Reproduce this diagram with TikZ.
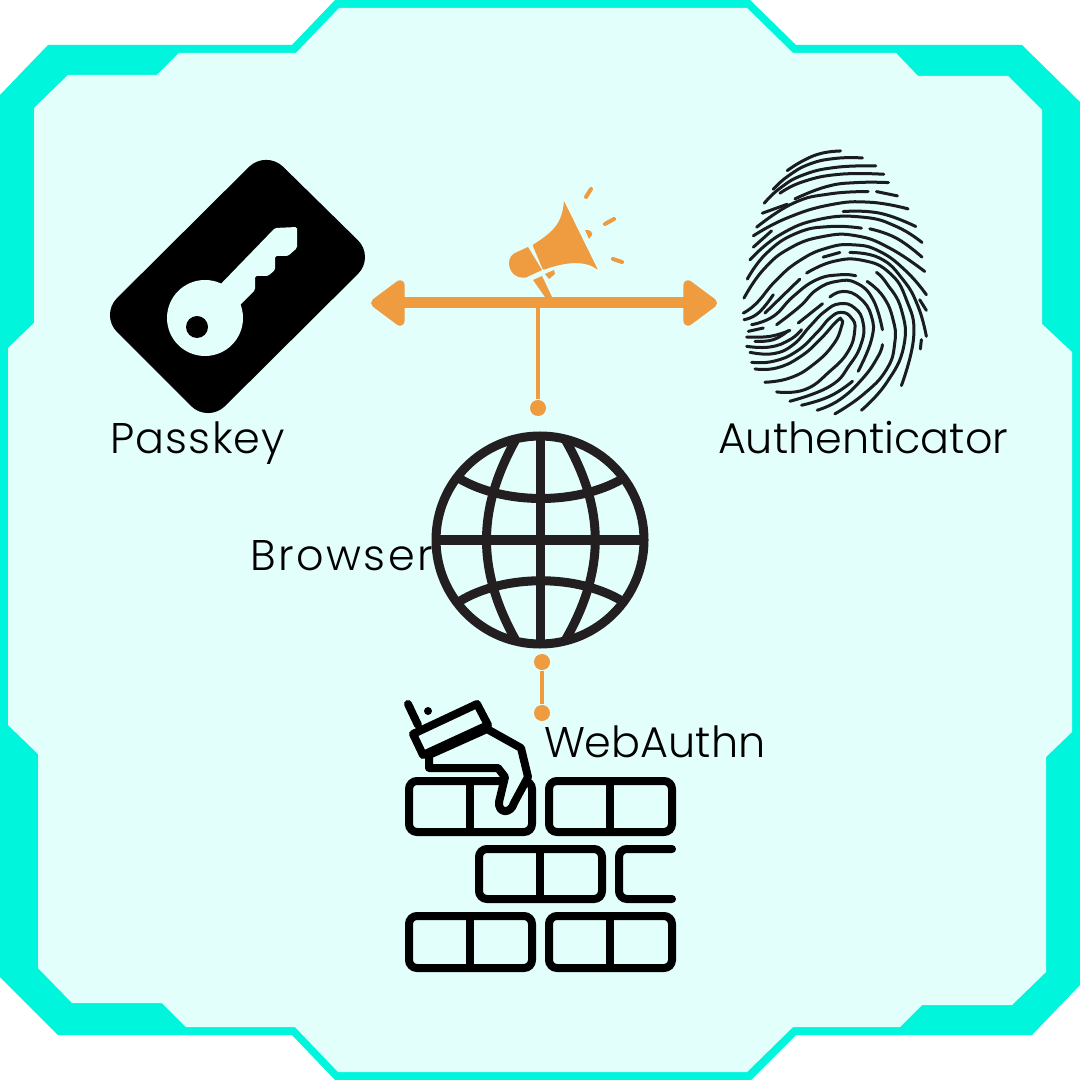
\documentclass[tikz,border=0pt]{standalone}
\usepackage{fontspec}
\setmainfont{Poppins Light}
\usepackage{xcolor}
\usepackage{tikz}
\usetikzlibrary{arrows.meta, positioning}
\definecolor{framecolor}{RGB}{0, 245, 221}
\definecolor{panelcolor}{RGB}{226, 255, 252}
\definecolor{signalcolor}{RGB}{239, 156, 65}
\definecolor{globecolor}{RGB}{35, 31, 32}
\definecolor{ridgecolor}{RGB}{26, 28, 32}
\tikzset{
    tag/.style={anchor=base west, inner sep=0pt, outer sep=0pt, font=\fontsize{12.2pt}{14pt}\selectfont, text=black},
    dotmark/.style={circle, fill=signalcolor, inner sep=0pt, minimum size=0.16cm},
    feed/.style={signalcolor, line width=0.035cm},
    globeline/.style={globecolor, line width=0.09cm},
    brick/.style={black, line width=0.08cm, rounded corners=0.08cm},
    ridge/.style={ridgecolor, line width=0.03cm, line cap=round, smooth, tension=0.8},
    beep/.style={signalcolor, line width=0.04cm, line cap=round}
}
\begin{document}
\begin{tikzpicture}[x=0.01cm, y=-0.01cm]
    \useasboundingbox (0,0) rectangle (1080,1080);
    \fill[white] (0,0) rectangle (1080,1080);

    % Frame
    \fill[framecolor] (0,95) -- (48,45) -- (292,45) -- (335,0) -- (750,0) -- (796,45) -- (1022,45) -- (1080,102) -- (1080,985) -- (1032,1035) -- (796,1035) -- (751,1080) -- (335,1080) -- (292,1035) -- (58,1035) -- (0,977) -- cycle;
    \fill[panelcolor] (8,348) -- (34,323) -- (34,108) -- (68,75) -- (157,75) -- (179,53) -- (296,53) -- (339,8) -- (747,8) -- (793,53) -- (896,53) -- (918,76) -- (1008,76) -- (1042,110) -- (1042,324) -- (1072,352) -- (1072,732) -- (1046,757) -- (1046,972) -- (1012,1005) -- (922,1005) -- (900,1027) -- (793,1027) -- (747,1072) -- (338,1072) -- (295,1027) -- (186,1027) -- (162,1003) -- (72,1003) -- (38,968) -- (38,754) -- (8,725) -- cycle;

    % Key card
    \fill[black, rounded corners=0.24cm] (266,150) -- (375,257) -- (208,423) -- (100,315) -- cycle;
    \fill[panelcolor] (205,318) circle (38);
    \fill[panelcolor, rounded corners=0.015cm] (215,290) -- (275,228) -- (297,227) -- (297,248) -- (288,256) -- (275,256) -- (275,270) -- (268,276) -- (255,276) -- (255,290) -- (238,307) -- cycle;
    \fill[black] (197,327) circle (11);

    % Megaphone
    \fill[signalcolor, rounded corners=0.01cm] (532.5,245) .. controls (555,231) and (562,222) .. (564,201) -- (598,270) .. controls (585,260) and (565,262) .. (543,270) -- cycle;
    \fill[signalcolor] (528,247) -- (542,270) -- (526,277.5) .. controls (516,279) and (509,272) .. (509,263) .. controls (509,258) and (512,254) .. (516,252.5) -- cycle;
    \fill[signalcolor] (533,280) -- (542,276) -- (552,297) -- (545,297) -- cycle;
    \fill[signalcolor] (545,274) -- (554,270) -- (555,274) -- (549,279) -- cycle;
    \fill[signalcolor] (585,230) .. controls (590,229) and (593,233) .. (592,235) -- (589,239) -- cycle;
    \draw[beep] (586,197) -- (591,189);
    \draw[beep] (605,224) -- (614,219);
    \draw[beep] (613,259) -- (622,262);

    % Signal connectors
    \coordinate (busL) at (371,303);
    \coordinate (busR) at (717,303);
    \coordinate (busM) at (538,303);
    \node[dotmark] (dotTop) at (538,408) {};
    \node[dotmark] (dotMid) at (542,662) {};
    \node[dotmark] (dotLow) at (542,713) {};
    \draw[signalcolor, line width=0.11cm, {Triangle[round, length=0.37cm, width=0.52cm]}-{Triangle[round, length=0.37cm, width=0.52cm]}] (busL) -- (busR);
    \draw[feed] (busM) -- (dotTop);
    \draw[feed] (dotMid) -- (dotLow);

    % Globe
    \draw[globeline] (540,540) circle (104);
    \draw[globeline] (540,436) -- (540,644);
    \draw[globeline] (436,540) -- (644,540);
    \draw[globeline] (515,441) .. controls (477,510) and (477,570) .. (515,639);
    \draw[globeline] (566,441) .. controls (605,510) and (605,570) .. (566,639);
    \draw[globeline] (460,479) .. controls (505,505) and (577,505) .. (622,479);
    \draw[globeline] (460,601) .. controls (505,574) and (577,574) .. (622,601);

    % Bricks
    \draw[brick] (409,781) rectangle (532,832);
    \draw[brick] (470,781) -- (470,832);
    \draw[brick] (549,781) rectangle (672,832);
    \draw[brick] (610,781) -- (610,832);
    \draw[brick] (479,849) rectangle (602,899);
    \draw[brick] (540,849) -- (540,899);
    \draw[brick, line cap=round] (672,849) -- (619,849) -- (619,899) -- (672,899);
    \draw[brick] (409,916) rectangle (532,968);
    \draw[brick] (470,916) -- (470,968);
    \draw[brick] (549,916) rectangle (672,968);
    \draw[brick] (610,916) -- (610,968);

    % Hand and trowel
    \draw[black, fill=panelcolor, line width=0.08cm, line join=round] (429,755) -- (429,768) -- (498,768) -- (505,777) -- (499,802) .. controls (498,814) and (511,814) .. (514,803) -- (528,777) -- (521,748) -- (487,729) -- cycle;
    \draw[black, fill=panelcolor, line width=0.08cm, line join=round] (413,734) -- (423,755) -- (488,725) -- (477,704) -- cycle;
    \draw[black, line width=0.08cm, line cap=round] (408,704) -- (418,725);
    \fill[black] (428,711) circle (4);

    % Fingerprint
    \begin{scope}[shift={(730,140)}, x=0.00333cm, y=-0.00333cm]
        \draw[ridge] plot coordinates {(172,92) (220,62) (275,40) (332,33)};
        \draw[ridge] plot coordinates {(130,148) (175,108) (240,72) (320,55) (398,54)};
        \draw[ridge] plot coordinates {(103,190) (150,145) (220,105) (320,82) (438,78)};
        \draw[ridge] plot coordinates {(150,160) (220,125) (330,103) (462,103)};
        \draw[ridge] plot coordinates {(195,177) (290,140) (380,128) (476,128)};
        \draw[ridge] plot coordinates {(97,220) (172,193)};
        \draw[ridge] plot coordinates {(80,262) (190,190) (300,162) (415,155)};
        \draw[ridge] plot coordinates {(440,155) (503,168)};
        \draw[ridge] plot coordinates {(70,288) (170,235) (300,195) (420,187) (535,207)};
        \draw[ridge] plot coordinates {(340,215) (450,220) (558,260)};
        \draw[ridge] plot coordinates {(70,322) (125,273)};
        \draw[ridge] plot coordinates {(60,360) (150,285) (270,238) (400,232) (500,260) (577,308)};
        \draw[ridge] plot coordinates {(52,418) (110,340) (200,280) (300,260) (395,265)};
        \draw[ridge] plot coordinates {(420,267) (500,295) (577,352)};
        \draw[ridge] plot coordinates {(42,475) (100,390) (180,325) (280,290) (380,288) (480,325) (585,395)};
        \draw[ridge] plot coordinates {(40,520) (80,490) (140,420) (210,362) (290,325) (370,315) (450,335) (530,395) (590,465)};
        \draw[ridge] plot coordinates {(42,540) (85,520) (130,465)};
        \draw[ridge] plot coordinates {(280,352) (330,338)};
        \draw[ridge] plot coordinates {(360,338) (450,355) (520,420) (565,500) (590,590)};
        \draw[ridge] plot coordinates {(230,400) (310,365) (400,362) (480,400) (530,480) (552,590) (515,738)};
        \draw[ridge] plot coordinates {(570,480) (590,512)};
        \draw[ridge] plot coordinates {(575,600) (572,628)};
        \draw[ridge] plot coordinates {(105,520) (210,418)};
        \draw[ridge] plot coordinates {(65,555) (130,530) (190,470) (260,420) (330,405) (378,408)};
        \draw[ridge] plot coordinates {(412,425) (460,470) (490,540) (495,610) (470,690) (400,765) (315,823)};
        \draw[ridge] plot coordinates {(395,812) (470,730) (522,620) (515,510) (470,430) (440,398)};
        \draw[ridge] plot coordinates {(140,555) (210,500) (260,450) (320,425) (380,430) (430,480) (458,570)};
        \draw[ridge] plot coordinates {(458,615) (445,650) (400,715) (330,780) (262,812)};
        \draw[ridge] plot coordinates {(205,550) (278,492)};
        \draw[ridge] plot coordinates {(300,472) (340,455) (390,475) (425,530) (425,600) (385,695)};
        \draw[ridge] plot coordinates {(368,725) (300,770) (215,797)};
        \draw[ridge] plot coordinates {(55,575) (100,565)};
        \draw[ridge] plot coordinates {(50,592) (120,590) (180,572)};
        \draw[ridge] plot coordinates {(75,605) (130,600) (175,573)};
        \draw[ridge] plot coordinates {(50,620) (120,622) (180,600) (215,570)};
        \draw[ridge] plot coordinates {(60,638) (130,642) (190,615) (240,560) (285,515) (330,492) (375,505) (400,550) (395,610) (360,675) (300,740) (180,785)};
        \draw[ridge] plot coordinates {(65,668) (130,665) (200,635) (260,580) (300,535) (335,518) (365,535) (375,570) (355,635) (300,695) (225,750) (140,757)};
        \draw[ridge] plot coordinates {(75,688) (140,685) (210,652) (270,600) (320,545) (335,540) (335,560) (310,615) (250,675) (180,715) (105,728)};
    \end{scope}

    % Labels
    \node[tag] (passkey) at (110,454) {\addfontfeature{LetterSpace=3}Passkey};
    \node[tag] (authenticator) at (718,454) {Authenticator};
    \node[tag] (browser) at (250,570) {\addfontfeature{LetterSpace=6}Browser};
    \node[tag] (webauthn) at (544,757) {WebAuthn};
\end{tikzpicture}
\end{document}
